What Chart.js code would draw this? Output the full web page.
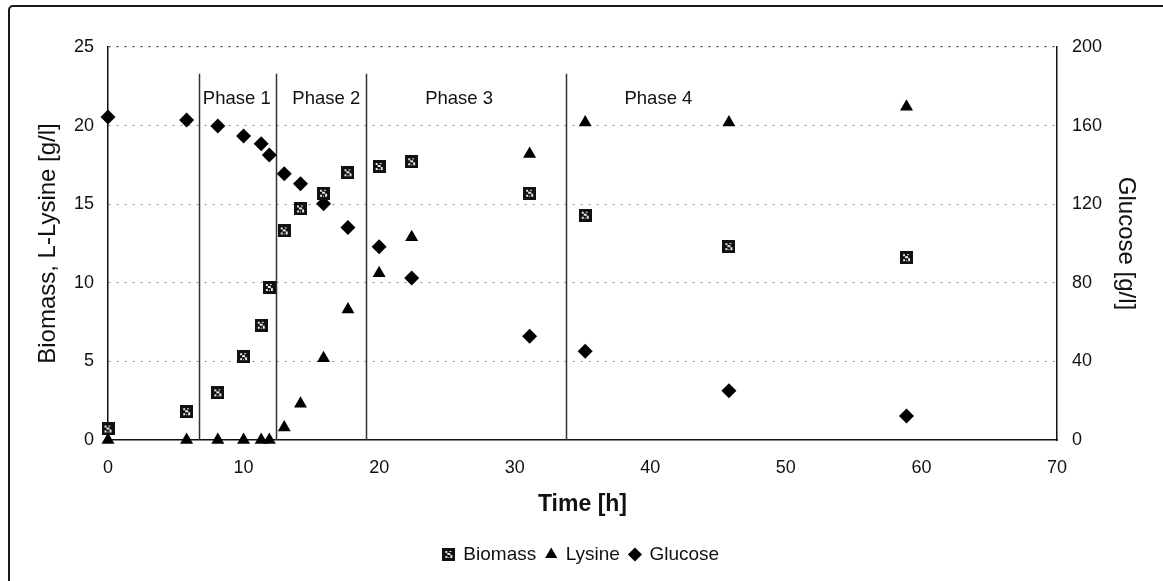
<!DOCTYPE html>
<html>
<head>
<meta charset="utf-8">
<script src="https://cdn.jsdelivr.net/npm/chart.js@4.4.1/dist/chart.umd.min.js"></script>
<style>
  html, body { margin: 0; padding: 0; background: #fff; overflow: hidden; }
  #wrap { position: relative; width: 1163px; height: 581px; }
  #fermChart { position: absolute; left: 0; top: 0; }
  #frame {
    position: absolute; left: 8px; top: 5px; width: 1200px; height: 620px;
    border: 2px solid #1a1a1a; border-radius: 5px; pointer-events: none;
  }
</style>
</head>
<body>
<div id="wrap">
  <canvas id="fermChart" width="1163" height="581"></canvas>
  <div id="frame"></div>
</div>
<script>
// sampling times of the fed-batch run [h]
const timeH = [0, 5.8, 8.1, 10.0, 11.3, 11.9, 13.0, 14.2, 15.9, 17.7, 20.0, 22.4, 31.1, 35.2, 45.8, 58.9];
// concentrations [g/l]
const biomass = [0.7, 1.8, 3.0, 5.3, 7.3, 9.7, 13.3, 14.7, 15.7, 17.0, 17.4, 17.7, 15.7, 14.3, 12.3, 11.6];
const lysine = [0, 0, 0, 0, 0, 0, 0.8, 2.3, 5.2, 8.3, 10.6, 12.9, 18.2, 20.2, 20.2, 21.2];
const glucose = [164.4, 162.9, 159.8, 154.7, 150.7, 145.1, 135.5, 130.4, 120.2, 108.1, 98.4, 82.5, 52.8, 45.2, 25.1, 12.2];

// process phases: start time of each phase [h]
const phaseNames = ["Phase 1", "Phase 2", "Phase 3", "Phase 4"];
const phaseStart = [6.7, 12.4, 19.0, 33.8];

const xTicks = [0, 10, 20, 30, 40, 50, 60, 70];
const yLeftTicks = [0, 5, 10, 15, 20, 25];
const yRightTicks = [0, 40, 80, 120, 160, 200];

const FONT = "'Liberation Sans', Arial, sans-serif";
const INK = "#111";

function pts(values) {
  return timeH.map((t, i) => ({ x: t, y: values[i] }));
}

// small speckled square used as the biomass marker
function makeBiomassMark() {
  const c = document.createElement("canvas");
  c.width = 13;
  c.height = 13;
  const g = c.getContext("2d");
  g.fillStyle = "#111";
  g.fillRect(0, 0, 13, 13);
  g.fillStyle = "#e8e8e8";
  g.fillRect(3, 3, 2, 2);
  g.fillRect(7, 3, 2, 1);
  g.fillRect(5, 5, 3, 2);
  g.fillRect(3, 8, 2, 2);
  g.fillRect(8, 7, 2, 3);
  g.fillRect(6, 9, 1, 1);
  return c;
}

// vertical phase separators with their captions
const phasePlugin = {
  id: "phases",
  beforeDatasetsDraw(chart) {
    const { ctx, scales } = chart;
    const x = scales.x;
    const y = scales.y;
    const lineTop = y.getPixelForValue(23.3);
    const lineBottom = y.getPixelForValue(0);
    const captionY = y.getPixelForValue(21.7);
    const captionAt = [9.5, 16.1, 25.9, 40.6];
    ctx.save();
    ctx.strokeStyle = "#333";
    ctx.lineWidth = 1.5;
    phaseStart.forEach((t) => {
      const px = Math.round(x.getPixelForValue(t)) + 0.5;
      ctx.beginPath();
      ctx.moveTo(px, lineTop);
      ctx.lineTo(px, lineBottom);
      ctx.stroke();
    });
    ctx.fillStyle = INK;
    ctx.font = "18.5px " + FONT;
    ctx.textAlign = "center";
    ctx.textBaseline = "middle";
    phaseNames.forEach((name, i) => {
      ctx.fillText(name, x.getPixelForValue(captionAt[i]), captionY);
    });
    ctx.restore();
  },
};

const biomassMark = makeBiomassMark();

let fermChart;

function initChart() {
  const ctx = document.getElementById("fermChart").getContext("2d");
  fermChart = new Chart(ctx, {
    type: "scatter",
    data: {
      datasets: [
        {
          label: "Biomass",
          data: pts(biomass),
          yAxisID: "y",
          pointStyle: biomassMark,
          pointRadius: 7,
          backgroundColor: "#111",
          borderColor: "#111",
          clip: false,
        },
        {
          label: "Lysine",
          data: pts(lysine),
          yAxisID: "y",
          pointStyle: "triangle",
          pointRadius: 7.5,
          borderWidth: 0,
          backgroundColor: "#000",
          borderColor: "#000",
          clip: false,
        },
        {
          label: "Glucose",
          data: pts(glucose),
          yAxisID: "y2",
          pointStyle: "rectRot",
          pointRadius: 7.5,
          borderWidth: 0,
          backgroundColor: "#000",
          borderColor: "#000",
          clip: false,
        },
      ],
    },
    options: {
      responsive: false,
      animation: false,
      devicePixelRatio: 1,
      layout: { padding: { top: 47, left: 0, right: 0, bottom: 7 } },
      plugins: {
        tooltip: { enabled: false },
        legend: {
          position: "bottom",
          labels: {
            usePointStyle: true,
            boxWidth: 10,
            boxHeight: 10,
            padding: 10,
            color: INK,
            font: { family: FONT, size: 19 },
          },
        },
      },
      scales: {
        x: {
          type: "linear",
          min: 0,
          max: 70,
          afterFit: (s) => { s.height = 95; },
          afterBuildTicks: (s) => { s.ticks = xTicks.map((v) => ({ value: v })); },
          grid: { display: false, drawTicks: false },
          border: { display: true, color: "#111", width: 1.5 },
          ticks: { padding: 17, color: INK, font: { family: FONT, size: 18 } },
          title: {
            display: true,
            text: "Time [h]",
            color: INK,
            font: { family: FONT, size: 23, weight: "bold" },
            padding: { top: 0, bottom: 17 },
          },
        },
        y: {
          position: "left",
          min: 0,
          max: 25,
          afterFit: (s) => { s.width = 108; },
          afterBuildTicks: (s) => { s.ticks = yLeftTicks.map((v) => ({ value: v })); },
          grid: {
            drawTicks: false,
            color: (c) => (c.tick && c.tick.value === 25 ? "#444" : c.tick && c.tick.value === 0 ? "rgba(0,0,0,0)" : "#8c8c8c"),
            lineWidth: (c) => (c.tick && c.tick.value === 25 ? 1.3 : 1),
          },
          border: { display: true, color: "#111", width: 1.5, dash: [2, 6] },
          ticks: { padding: 14, color: INK, font: { family: FONT, size: 18 } },
          title: {
            display: true,
            text: "Biomass, L-Lysine [g/l]",
            color: INK,
            font: { family: FONT, size: 24 },
            padding: { top: 34, bottom: 0 },
          },
        },
        y2: {
          position: "right",
          min: 0,
          max: 200,
          afterFit: (s) => { s.width = 106; },
          afterBuildTicks: (s) => { s.ticks = yRightTicks.map((v) => ({ value: v })); },
          grid: { drawOnChartArea: false, drawTicks: false },
          border: { display: true, color: "#111", width: 1.5 },
          ticks: { padding: 15, color: INK, font: { family: FONT, size: 18 } },
          title: {
            display: true,
            text: "Glucose [g/l]",
            color: INK,
            font: { family: FONT, size: 24 },
            padding: { top: 23, bottom: 0 },
          },
        },
      },
    },
    plugins: [phasePlugin],
  });
}

window.onload = function () {
  initChart();
};
</script>
</body>
</html>
